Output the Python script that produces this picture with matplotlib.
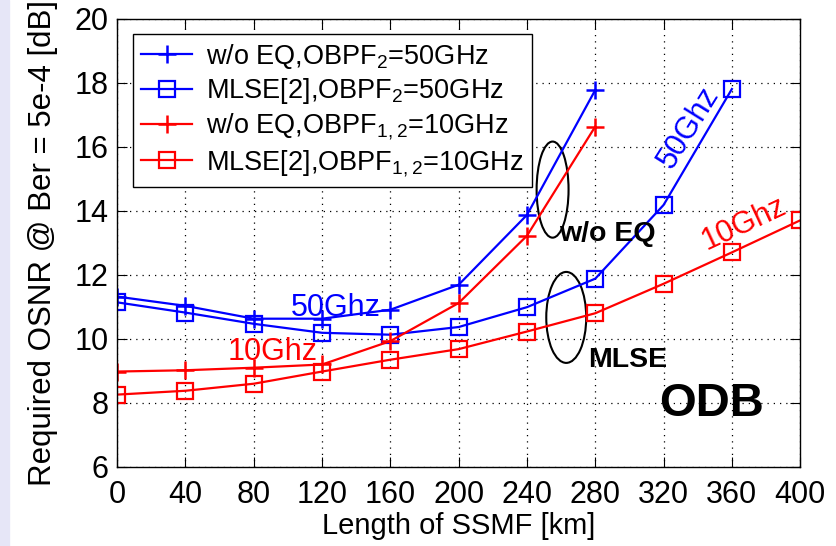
import numpy as np
import matplotlib
matplotlib.use("Agg")
import matplotlib.pyplot as plt
from matplotlib.patches import Ellipse, Rectangle

plt.rcParams['font.family'] = ['Liberation Sans', 'DejaVu Sans']
plt.rcParams['mathtext.default'] = 'regular'

# fiber length [km]
km_short = [0, 40, 80, 120, 160, 200, 240, 280]
km_50_mlse = [0, 40, 80, 120, 160, 200, 240, 280, 320, 360]
km_10_mlse = [0, 40, 80, 120, 160, 200, 240, 280, 320, 360, 400]

# required OSNR [dB]
noeq_50 = [11.32, 11.03, 10.63, 10.63, 10.91, 11.69, 13.87, 17.77]
mlse_50 = [11.14, 10.82, 10.47, 10.19, 10.13, 10.37, 10.99, 11.88, 14.18, 17.8]
noeq_10 = [8.98, 9.02, 9.1, 9.2, 9.93, 11.12, 13.22, 16.63]
mlse_10 = [8.26, 8.38, 8.6, 8.98, 9.35, 9.68, 10.23, 10.8, 11.72, 12.7, 13.7]

legend_labels = ['w/o EQ,OBPF$_2$=50GHz', 'MLSE[2],OBPF$_2$=50GHz',
                 'w/o EQ,OBPF$_{1,2}$=10GHz', 'MLSE[2],OBPF$_{1,2}$=10GHz']

x_ticks = np.arange(0, 401, 40)
y_ticks = np.arange(6, 21, 2)

fig = plt.figure(figsize=(8.37, 5.46), dpi=100)
# faint lavender strip on the left edge of the slide
fig.patches.append(Rectangle((0, 0), 0.011, 1, transform=fig.transFigure,
                             color='#e6e6f7', zorder=0))
ax = fig.add_axes([0.140, 0.1447, 0.816, 0.8213])

ax.plot(km_short, noeq_50, color='blue', lw=1.6, marker='+', ms=13, mew=1.8,
        label=legend_labels[0])
ax.plot(km_50_mlse, mlse_50, color='blue', lw=1.6, marker='s', ms=11, mew=1.6,
        mfc='none', label=legend_labels[1])
ax.plot(km_short, noeq_10, color='red', lw=1.6, marker='+', ms=13, mew=1.8,
        label=legend_labels[2])
ax.plot(km_10_mlse, mlse_10, color='red', lw=1.6, marker='s', ms=11, mew=1.6,
        mfc='none', label=legend_labels[3])

ax.set_xlim(0, 400)
ax.set_ylim(6, 20)
ax.set_xticks(x_ticks)
ax.set_yticks(y_ticks)
ax.grid(True, color='black', linestyle=(0, (1, 4)), lw=0.9)
ax.tick_params(direction='in', length=7, labelsize=22, top=True, right=True,
               width=0.8)
ax.tick_params(axis='x', pad=9.5)
ax.tick_params(axis='y', pad=6)
for sp in ax.spines.values():
    sp.set_linewidth(1.0)

ax.set_xlabel('Length of SSMF [km]', fontsize=21, labelpad=1)
ax.set_ylabel('Required OSNR @ Ber = 5e-4 [dB]', fontsize=22.5, labelpad=12)

# annotations
ax.text(128, 10.95, '50Ghz', color='blue', fontsize=22, ha='center', va='center')
ax.text(91, 9.6, '10Ghz', color='red', fontsize=22, ha='center', va='center')
ax.text(335, 16.6, '50Ghz', color='blue', fontsize=22, ha='center', va='center',
        rotation=58)
ax.text(367, 13.6, '10Ghz', color='red', fontsize=22, ha='center', va='center',
        rotation=25)
ax.text(287, 13.28, 'w/o EQ', color='black', fontsize=20.5, fontweight='bold',
        ha='center', va='center')
ax.text(299, 9.35, 'MLSE', color='black', fontsize=20.5, fontweight='bold',
        ha='center', va='center')
ax.text(348, 7.97, 'ODB', color='black', fontsize=34, fontweight='bold',
        ha='center', va='center')

ax.add_patch(Ellipse((255, 14.66), 18.7, 3.0, fill=False, ec='black', lw=1.5))
ax.add_patch(Ellipse((263, 10.67), 23.4, 2.84, fill=False, ec='black', lw=1.5))

leg = ax.legend(loc='upper left', bbox_to_anchor=(0.023, 0.966), borderaxespad=0,
                fontsize=19.5, frameon=True, fancybox=False, edgecolor='black',
                framealpha=1, handlelength=1.9, handletextpad=0.5,
                labelspacing=0.2, borderpad=0.3)
leg.get_frame().set_linewidth(1.0)

fig.savefig('out.png', dpi=100)
